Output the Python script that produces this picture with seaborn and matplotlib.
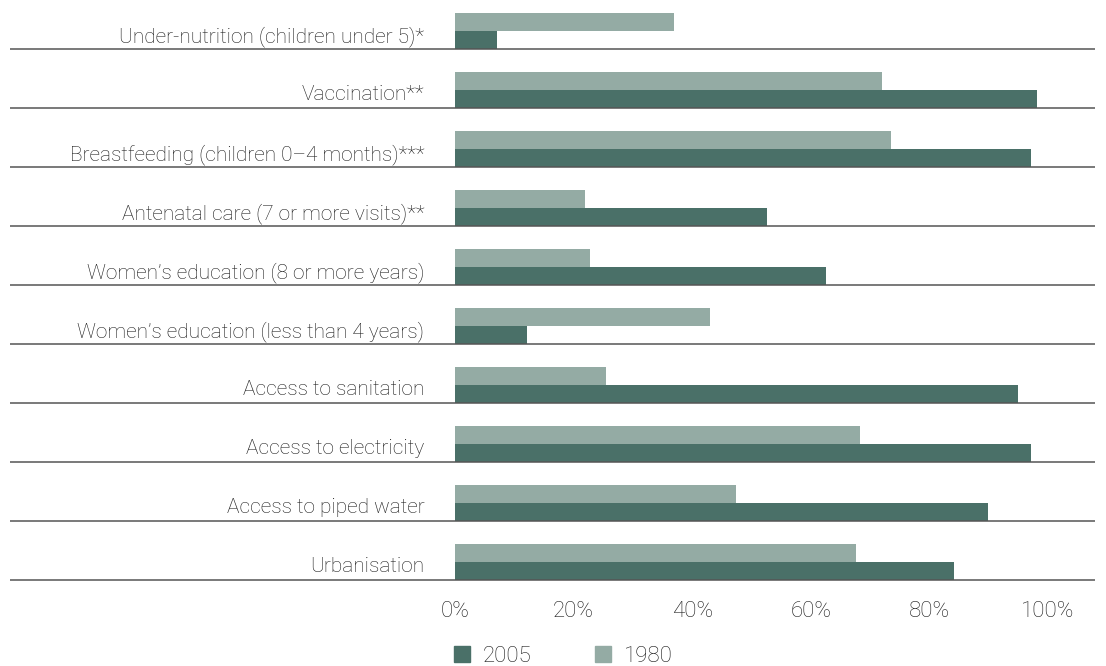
import pandas as pd
import numpy as np
import matplotlib
matplotlib.use("Agg")
import matplotlib.pyplot as plt
import seaborn as sns
from matplotlib.patches import Patch

sns.set_style("white")
plt.rcParams['font.family'] = ['Roboto', 'DejaVu Sans']

# Data (percent)
categories = [
    "Under-nutrition (children under 5)*",
    "Vaccination**",
    "Breastfeeding (children 0\u20134 months)***",
    "Antenatal care (7 or more visits)**",
    "Women\u2019s education (8 or more years)",
    "Women\u2019s education (less than 4 years)",
    "Access to sanitation",
    "Access to electricity",
    "Access to piped water",
    "Urbanisation",
]
values_1980 = [37, 72, 73.5, 22, 22.7, 43, 25.5, 68.3, 47.4, 67.7]
values_2005 = [7, 98.2, 97.1, 52.6, 62.5, 12.1, 94.9, 97.1, 89.9, 84.2]
years = ["1980", "2005"]
colors = {"1980": "#94aba4", "2005": "#4a7068"}
tick_vals = [0, 20, 40, 60, 80, 100]
txt_color = "#1a1a1a"

df = pd.DataFrame({
    "category": categories * 2,
    "year": ["1980"] * len(categories) + ["2005"] * len(categories),
    "value": values_1980 + values_2005,
})

W, H = 1106, 666
fig = plt.figure(figsize=(W / 100, H / 100), dpi=100)
x0, x1 = 455, 1048          # pixel of 0% and 100%
top_px, bot_px = 0, 590      # axes extent in pixels
ax = fig.add_axes([x0 / W, 1 - bot_px / H, (x1 - x0) / W, (bot_px - top_px) / H])

sns.barplot(data=df, y="category", x="value", hue="year", hue_order=years,
            palette=colors, orient="h", width=0.61, saturation=1,
            linewidth=0, gap=0, legend=False, ax=ax)

# category p sits at pixel 31 + 59*p
ax.set_ylim((bot_px - 31) / 59, (top_px - 31) / 59)
ax.set_xlim(0, 100)

# separator lines below each category
for i in range(len(categories)):
    ax.hlines(i + 0.31, -75.0, 107.9, color="#555555", lw=1.1, clip_on=False, zorder=3)

ax.set_yticks(np.arange(len(categories)) + 0.05)
ax.set_yticklabels(categories, fontsize=15, color=txt_color, fontweight="light")
ax.tick_params(axis="y", length=0, pad=22)
ax.set_xticks(tick_vals)
ax.set_xticklabels([f"{v}%" for v in tick_vals], fontsize=16, color=txt_color,
                   fontweight="light")
ax.tick_params(axis="x", length=0, pad=8)
ax.set_xlabel("")
ax.set_ylabel("")
for s in ax.spines.values():
    s.set_visible(False)

handles = [Patch(color=colors["2005"], label="2005"),
           Patch(color=colors["1980"], label="1980")]
fig.legend(handles=handles, loc="center left", bbox_to_anchor=(454 / W, 1 - 656 / H),
           ncol=2, frameon=False, handlelength=0.72, handleheight=0.72,
           handletextpad=0.58, columnspacing=2.85, borderaxespad=0, borderpad=0,
           prop={"size": 16, "weight": "light"}, labelcolor=txt_color)

fig.savefig("out.png", dpi=100)
